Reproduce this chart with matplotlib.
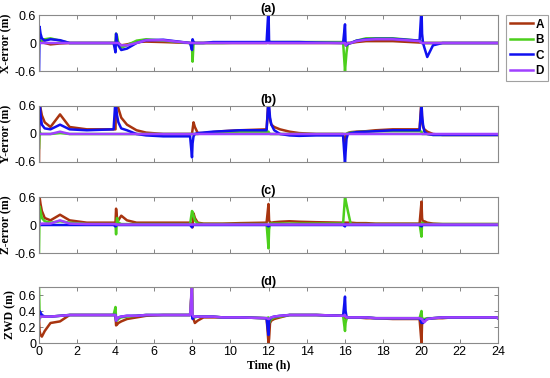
import numpy as np
import matplotlib
matplotlib.use("Agg")
import matplotlib.pyplot as plt

# ---- time grid (hours): convergence restarts every 4 h ----
restarts = [0, 4, 8, 12, 16, 20]
offsets = [0, 0.03, 0.08, 0.15, 0.3, 0.6, 1.1, 1.6, 2.5, 3.9]
time_h = [r + o for r in restarts for o in offsets] + [24]

series_names = ["A", "B", "C", "D"]
series_colors = ["#a8340f", "#4ccf1c", "#1010f0", "#a040ff"]

# ---- (a) X-error (m) ----
x_err_A = [0, 0.02, 0.03, 0.02, 0.0, -0.03, -0.01, 0.0, 0.0, 0.0,
           0.0, 0.05, 0.08, 0.0, -0.05, -0.03, 0.02, 0.03, 0.02, 0.0,
           0.0, -0.05, 0.02, 0.0, 0.0, 0.0, 0.0, 0.0, 0.0, 0.0,
           0.02, 0.0, 0.0, 0.0, 0.0, 0.0, 0.0, 0.0, 0.0, 0.0,
           0.0, -0.05, 0.0, 0.0, 0.0, 0.02, 0.04, 0.04, 0.04, 0.01,
           0.02, 0.0, 0.0, 0.0, 0.0, 0.0, 0.0, 0.0, 0.0, 0.0,
           0.0]
x_err_B = [0.0, 0.05, 0.05, 0.05, 0.08, 0.1, 0.05, 0.0, 0.0, 0.0,
           0.0, 0.2, 0.15, 0.0, -0.1, -0.05, 0.05, 0.08, 0.05, 0.0,
           -0.1, -0.4, 0.0, 0.0, 0.0, 0.0, 0.0, 0.0, 0.01, 0.01,
           0.02, 0.02, 0.02, 0.02, 0.02, 0.02, 0.02, 0.02, 0.02, 0.02,
           -0.6, -0.45, -0.2, 0.0, 0.0, 0.05, 0.1, 0.1, 0.1, 0.05,
           0.03, 0.0, 0.0, 0.0, 0.0, 0.0, 0.0, 0.0, 0.0, 0.0,
           0.0]
x_err_C = [-0.7, 0.35, 0.2, 0.1, 0.05, 0.08, 0.06, 0.0, 0.0, 0.0,
           -0.2, 0.2, 0.05, -0.05, -0.15, -0.12, 0.0, 0.06, 0.07, 0.0,
           -0.15, 0.08, 0.02, 0.0, 0.0, 0.0, 0.02, 0.02, 0.02, 0.02,
           0.75, 0.03, 0.02, 0.02, 0.02, 0.02, 0.02, 0.02, 0.01, 0.0,
           0.4, 0.0, -0.05, -0.02, 0.0, 0.05, 0.08, 0.09, 0.09, 0.05,
           0.75, 0.2, 0.0, -0.1, -0.3, -0.05, 0.0, 0.0, 0.0, 0.0,
           0.0]
x_err_D = [0.0, 0.0, 0.0, 0.0, 0.0, 0.0, 0.0, 0.0, 0.0, 0.0,
           0.0, 0.0, 0.0, 0.0, -0.05, -0.05, 0.0, 0.06, 0.06, 0.0,
           0.0, 0.0, 0.0, 0.0, 0.0, 0.0, 0.0, 0.0, 0.0, 0.0,
           0.0, 0.0, 0.0, 0.0, 0.0, 0.0, 0.0, 0.0, 0.0, 0.0,
           0.0, -0.05, -0.03, 0.0, 0.0, 0.04, 0.07, 0.08, 0.08, 0.04,
           0.0, 0.0, 0.0, 0.0, 0.0, 0.0, 0.0, 0.0, 0.0, 0.0,
           0.0]

# ---- (b) Y-error (m) ----
y_err_A = [-0.6, 0.75, 0.55, 0.4, 0.25, 0.15, 0.42, 0.15, 0.1, 0.1,
           0.1, 0.75, 0.7, 0.55, 0.35, 0.2, 0.08, 0.03, 0.0, 0.0,
           0.0, 0.1, 0.25, 0.15, 0.02, 0.02, 0.04, 0.06, 0.08, 0.1,
           0.75, 0.5, 0.3, 0.2, 0.15, 0.1, 0.05, 0.02, 0.0, 0.0,
           -0.3, -0.1, 0.0, 0.02, 0.04, 0.05, 0.06, 0.08, 0.1, 0.1,
           0.75, 0.3, 0.15, 0.1, 0.05, 0.0, -0.02, -0.02, -0.02, -0.02,
           -0.02]
y_err_B = [-0.3, 0.05, 0.0, 0.0, 0.0, 0.0, 0.02, 0.0, 0.0, 0.0,
           0.0, 0.0, 0.0, 0.0, 0.0, 0.0, 0.0, 0.0, 0.0, 0.0,
           0.0, 0.0, 0.0, 0.0, 0.0, 0.02, 0.03, 0.04, 0.05, 0.05,
           0.05, 0.02, 0.0, 0.0, 0.0, 0.0, 0.0, 0.0, 0.0, 0.0,
           0.0, 0.0, 0.0, 0.02, 0.03, 0.04, 0.05, 0.06, 0.06, 0.06,
           0.05, 0.0, 0.0, 0.0, 0.0, -0.02, -0.02, -0.02, -0.02, -0.02,
           -0.02]
y_err_C = [0.0, 0.75, 0.4, 0.2, 0.12, 0.1, 0.2, 0.1, 0.08, 0.1,
           0.75, 0.6, 0.4, 0.25, 0.12, 0.08, 0.0, -0.03, -0.05, -0.05,
           -0.5, -0.2, -0.05, 0.0, 0.02, 0.03, 0.05, 0.06, 0.08, 0.08,
           0.75, 0.6, 0.35, 0.2, 0.08, 0.0, -0.03, -0.04, -0.03, -0.03,
           -0.65, -0.4, -0.1, 0.0, 0.02, 0.04, 0.05, 0.06, 0.08, 0.08,
           0.65, 0.4, 0.2, 0.05, 0.0, -0.02, -0.02, -0.02, -0.02, -0.02,
           -0.02]
y_err_D = [0.0, 0.0, 0.0, 0.0, 0.0, 0.0, 0.05, 0.0, 0.0, 0.0,
           0.0, 0.0, 0.0, 0.0, 0.0, 0.0, 0.0, 0.0, 0.0, 0.0,
           0.0, 0.0, 0.0, 0.0, 0.0, 0.0, 0.0, 0.0, 0.0, 0.0,
           0.0, 0.0, 0.0, 0.0, 0.0, 0.0, 0.0, 0.0, 0.0, 0.0,
           0.0, 0.0, 0.0, 0.0, 0.0, 0.0, 0.0, 0.0, 0.0, 0.0,
           0.0, 0.0, 0.0, 0.0, 0.0, 0.0, 0.0, 0.0, 0.0, 0.0,
           0.0]

# ---- (c) Z-error (m) ----
z_err_A = [0.1, 0.6, 0.45, 0.3, 0.15, 0.1, 0.22, 0.1, 0.05, 0.05,
           0.05, 0.35, 0.15, 0.1, 0.2, 0.1, 0.05, 0.05, 0.05, 0.05,
           0.0, -0.05, 0.25, 0.15, 0.05, 0.03, 0.03, 0.03, 0.04, 0.05,
           0.45, 0.1, 0.05, 0.05, 0.06, 0.07, 0.08, 0.07, 0.06, 0.05,
           0.05, 0.05, 0.05, 0.05, 0.05, 0.04, 0.04, 0.03, 0.03, 0.03,
           0.5, 0.15, 0.05, 0.08, 0.05, 0.03, 0.02, 0.02, 0.02, 0.02,
           0.02]
z_err_B = [-0.6, 0.4, 0.3, 0.15, 0.08, 0.05, 0.08, 0.05, 0.02, 0.02,
           0.0, -0.2, 0.15, 0.05, 0.02, 0.02, 0.02, 0.02, 0.02, 0.02,
           0.3, 0.28, 0.2, 0.1, 0.03, 0.02, 0.02, 0.02, 0.02, 0.02,
           -0.5, -0.1, 0.03, 0.03, 0.03, 0.03, 0.03, 0.03, 0.03, 0.03,
           0.6, 0.54, 0.44, 0.3, 0.02, 0.02, 0.02, 0.02, 0.02, 0.02,
           -0.25, 0.05, 0.03, 0.02, 0.02, 0.02, 0.02, 0.02, 0.02, 0.02,
           0.02]
z_err_C = [0.1, 0.0, 0.0, 0.0, 0.0, 0.0, 0.0, 0.0, 0.0, 0.0,
           -0.03, 0.0, 0.0, 0.0, 0.0, 0.0, 0.0, 0.0, 0.0, 0.0,
           -0.05, 0.0, 0.0, 0.0, 0.0, 0.0, 0.0, 0.0, 0.0, 0.0,
           -0.03, 0.0, 0.0, 0.0, 0.0, 0.0, 0.0, 0.0, 0.0, 0.0,
           -0.03, 0.02, 0.0, 0.0, 0.0, 0.0, 0.0, 0.0, 0.0, 0.0,
           -0.03, 0.0, 0.0, 0.0, 0.0, 0.0, 0.0, 0.0, 0.0, 0.0,
           0.0]
z_err_D = [0.0, 0.0, 0.02, 0.03, 0.03, 0.03, 0.1, 0.03, 0.02, 0.02,
           0.02, 0.01, 0.01, 0.01, 0.01, 0.01, 0.01, 0.01, 0.01, 0.01,
           0.01, 0.01, 0.01, 0.01, 0.01, 0.01, 0.01, 0.01, 0.01, 0.01,
           0.01, 0.01, 0.01, 0.01, 0.01, 0.01, 0.01, 0.01, 0.01, 0.01,
           0.01, 0.01, 0.01, 0.01, 0.01, 0.01, 0.01, 0.01, 0.01, 0.01,
           0.01, 0.01, 0.01, 0.01, 0.01, 0.01, 0.01, 0.01, 0.01, 0.01,
           0.01]

# ---- (d) ZWD (m) ----
zwd_A = [0.3, 0.15, 0.1, 0.08, 0.15, 0.25, 0.27, 0.35, 0.35, 0.35,
         0.35, 0.22, 0.23, 0.25, 0.27, 0.3, 0.32, 0.34, 0.35, 0.35,
         0.7, 0.35, 0.3, 0.25, 0.28, 0.32, 0.32, 0.32, 0.32, 0.31,
         0.0, 0.05, 0.25, 0.28, 0.3, 0.32, 0.35, 0.35, 0.35, 0.34,
         0.33, 0.3, 0.32, 0.32, 0.32, 0.32, 0.31, 0.31, 0.3, 0.3,
         0.0, 0.25, 0.3, 0.28, 0.3, 0.31, 0.31, 0.32, 0.32, 0.32,
         0.31]
zwd_B = [0.7, 0.35, 0.32, 0.33, 0.33, 0.33, 0.34, 0.35, 0.35, 0.35,
         0.45, 0.3, 0.28, 0.3, 0.32, 0.33, 0.34, 0.35, 0.35, 0.35,
         0.7, 0.35, 0.32, 0.32, 0.33, 0.33, 0.33, 0.32, 0.32, 0.31,
         0.32, 0.25, 0.28, 0.3, 0.32, 0.33, 0.35, 0.35, 0.35, 0.34,
         0.15, 0.25, 0.3, 0.32, 0.32, 0.32, 0.32, 0.31, 0.31, 0.31,
         0.4, 0.3, 0.3, 0.3, 0.31, 0.31, 0.32, 0.32, 0.32, 0.32,
         0.31]
zwd_C = [0.3, 0.4, 0.38, 0.35, 0.33, 0.33, 0.34, 0.35, 0.35, 0.35,
         0.35, 0.28, 0.3, 0.32, 0.33, 0.34, 0.34, 0.35, 0.35, 0.35,
         0.35, 0.3, 0.32, 0.33, 0.33, 0.33, 0.33, 0.32, 0.32, 0.31,
         0.1, 0.28, 0.3, 0.32, 0.33, 0.34, 0.35, 0.35, 0.35, 0.34,
         0.58, 0.4, 0.33, 0.32, 0.32, 0.32, 0.32, 0.31, 0.31, 0.31,
         0.25, 0.3, 0.25, 0.28, 0.3, 0.31, 0.32, 0.32, 0.32, 0.32,
         0.31]
zwd_D = [0.28, 0.33, 0.33, 0.33, 0.33, 0.33, 0.34, 0.35, 0.35, 0.35,
         0.35, 0.28, 0.3, 0.32, 0.33, 0.34, 0.34, 0.35, 0.35, 0.35,
         0.75, 0.35, 0.33, 0.33, 0.33, 0.33, 0.33, 0.32, 0.32, 0.31,
         0.3, 0.3, 0.31, 0.32, 0.33, 0.34, 0.35, 0.35, 0.35, 0.34,
         0.35, 0.33, 0.32, 0.32, 0.32, 0.32, 0.32, 0.31, 0.31, 0.31,
         0.3, 0.3, 0.27, 0.26, 0.3, 0.31, 0.32, 0.32, 0.32, 0.32,
         0.31]

panels = [
    ("(a)", "X-error (m)", [x_err_A, x_err_B, x_err_C, x_err_D], (-0.6, 0.6), [-0.6, 0, 0.6], ["-0.6", "0", "0.6"]),
    ("(b)", "Y-error (m)", [y_err_A, y_err_B, y_err_C, y_err_D], (-0.6, 0.6), [-0.6, 0, 0.6], ["-0.6", "0", "0.6"]),
    ("(c)", "Z-error (m)", [z_err_A, z_err_B, z_err_C, z_err_D], (-0.6, 0.6), [-0.6, 0, 0.6], ["-0.6", "0", "0.6"]),
    ("(d)", "ZWD (m)", [zwd_A, zwd_B, zwd_C, zwd_D], (0, 0.7), [0, 0.2, 0.4, 0.6], ["0", "0.2", "0.4", "0.6"]),
]
x_ticks = list(range(0, 25, 2))

fig = plt.figure(figsize=(5.5, 3.78), dpi=100)
left, width = 39 / 550, 459 / 550
tops = [15, 106, 197, 287]
h = 56
tick_font = {"family": "Liberation Sans", "size": 9}
handles = []
for i, (title, ylabel, data, ylim, yt, ytl) in enumerate(panels):
    top = tops[i]
    ax = fig.add_axes([left, (378 - top - h) / 378, width, h / 378])
    for name, col, vals in zip(series_names, series_colors, data):
        ln, = ax.plot(time_h, vals, color=col, lw=1.8, label=name)
        if i == 0:
            handles.append(ln)
    ax.set_xlim(0, 24)
    ax.set_ylim(*ylim)
    ax.set_xticks(x_ticks)
    ax.set_yticks(yt)
    ax.set_yticklabels(ytl, fontdict=tick_font)
    if i == 3:
        ax.set_xticklabels([str(v) for v in x_ticks], fontdict=tick_font)
        ax.set_xlabel("Time (h)", fontfamily="Liberation Serif", fontweight="bold", fontsize=8.5, labelpad=1)
    else:
        ax.set_xticklabels([])
    ax.tick_params(direction="in", top=True, right=True, length=3, width=0.6,
                   color="#707070", pad=2)
    for s in ax.spines.values():
        s.set_color("#8a8a8a")
        s.set_linewidth(0.8)
    ax.set_ylabel(ylabel, fontfamily="Liberation Serif", fontweight="bold", fontsize=8.5, labelpad=2)
    ax.set_title(title, fontfamily="Liberation Sans", fontweight="bold", fontsize=9, pad=1.5)

leg = fig.legend(handles=handles, loc="upper left", bbox_to_anchor=(506 / 550, 1 - 15 / 378),
                 prop={"family": "Liberation Sans", "weight": "bold", "size": 8.5},
                 frameon=True, fancybox=False, edgecolor="#8a8a8a", handlelength=2.0,
                 handletextpad=0.2, borderpad=0.3, labelspacing=0.3, borderaxespad=0)
leg.get_frame().set_linewidth(0.8)

fig.savefig("out.png", dpi=100)
